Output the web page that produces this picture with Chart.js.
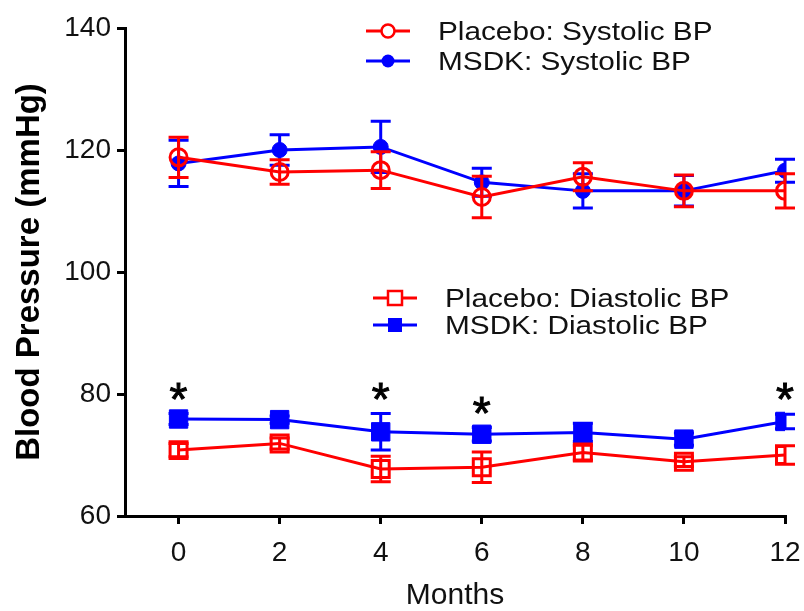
<!DOCTYPE html>
<html>
<head>
<meta charset="utf-8">
<script src="https://cdn.jsdelivr.net/npm/chart.js@4.4.1/dist/chart.umd.min.js"></script>
<style>
  html, body { margin: 0; padding: 0; background: #fff; }
  #wrap { width: 804px; height: 611px; }
</style>
</head>
<body>
<div id="wrap"><canvas id="bpChart"></canvas></div>
<script>
// values (mean and SEM, mmHg)
const months = [0, 2, 4, 6, 8, 10, 12];
const xTicks = [0, 2, 4, 6, 8, 10, 12];
const yTicks = [60, 80, 100, 120, 140];

const sysPlacebo    = [118.8, 116.4, 116.7, 112.3, 115.6, 113.3, 113.3];
const sysPlaceboErr = [3.3, 2.0, 3.0, 3.4, 2.3, 2.6, 2.8];
const sysMsdk       = [117.8, 120.0, 120.5, 114.7, 113.3, 113.3, 116.6];
const sysMsdkErr    = [3.8, 2.5, 4.2, 2.3, 2.8, 2.5, 1.9];
const diaPlacebo    = [70.8, 71.9, 67.7, 68.0, 70.4, 68.9, 70.0];
const diaPlaceboErr = [1.1, 0.9, 2.1, 2.5, 1.2, 0.8, 1.5];
const diaMsdk       = [75.9, 75.8, 73.8, 73.4, 73.7, 72.6, 75.5];
const diaMsdkErr    = [0.9, 0.6, 3.0, 1.1, 1.5, 1.0, 1.2];
const starMonths    = [0, 4, 6, 12];

const RED = 'rgb(255,0,0)';
const BLUE = 'rgb(0,0,255)';
const FONT = '"Liberation Sans", Arial, sans-serif';

function pts(vals) {
  return months.map((m, i) => ({ x: m, y: vals[i] }));
}

// error bars, drawn under each dataset's own line and markers
const errorBars = {
  id: 'errorBars',
  beforeDatasetDraw(chart, args) {
    const ds = chart.data.datasets[args.index];
    if (!ds.errors) return;
    const ctx = chart.ctx, xs = chart.scales.x, ys = chart.scales.y;
    ctx.save();
    ctx.strokeStyle = ds.borderColor;
    ctx.lineWidth = 3;
    ds.data.forEach((p, i) => {
      const px = xs.getPixelForValue(p.x);
      const top = ys.getPixelForValue(p.y + ds.errors[i]);
      const bot = ys.getPixelForValue(p.y - ds.errors[i]);
      ctx.beginPath();
      ctx.moveTo(px, top); ctx.lineTo(px, bot);
      ctx.moveTo(px - 10, top); ctx.lineTo(px + 10, top);
      ctx.moveTo(px - 10, bot); ctx.lineTo(px + 10, bot);
      ctx.stroke();
    });
    ctx.restore();
  }
};

// significance stars above MSDK diastolic
const stars = {
  id: 'stars',
  afterDatasetsDraw(chart) {
    const ctx = chart.ctx, xs = chart.scales.x, ys = chart.scales.y;
    ctx.save();
    ctx.fillStyle = '#000';
    ctx.strokeStyle = '#000';
    ctx.lineWidth = 1;
    ctx.font = '46px ' + FONT;
    ctx.textAlign = 'center';
    ctx.textBaseline = 'alphabetic';
    starMonths.forEach(m => {
      const i = months.indexOf(m);
      const px = xs.getPixelForValue(m);
      const py = ys.getPixelForValue(diaMsdk[i] + diaMsdkErr[i]) - 25;
      ctx.fillText('*', px, py + 26);
      ctx.strokeText('*', px, py + 26);
    });
    ctx.restore();
  }
};

// two legend blocks placed like the original figure
const legendBlocks = {
  id: 'legendBlocks',
  afterDraw(chart) {
    const ctx = chart.ctx;
    const rows = [
      { ds: 0, x0: 366, x1: 410, y: 31, tx: 438 },
      { ds: 1, x0: 366, x1: 410, y: 61, tx: 438 },
      { ds: 2, x0: 373, x1: 417, y: 298, tx: 445 },
      { ds: 3, x0: 373, x1: 417, y: 325, tx: 445 }
    ];
    rows.forEach(r => {
      const ds = chart.data.datasets[r.ds];
      const cx = (r.x0 + r.x1) / 2;
      ctx.save();
      ctx.strokeStyle = ds.borderColor;
      ctx.lineWidth = 3;
      ctx.beginPath();
      ctx.moveTo(r.x0, r.y); ctx.lineTo(r.x1, r.y);
      ctx.stroke();
      ctx.fillStyle = ds.borderColor;
      ctx.beginPath();
      if (ds.pointStyle === 'circle') {
        ctx.arc(cx, r.y, 6.5, 0, Math.PI * 2);
      } else {
        ctx.rect(cx - 7, r.y - 7, 14, 14);
      }
      if (ds.open) {
        ctx.fillStyle = '#fff';
        ctx.fill();
        ctx.lineWidth = 2.5;
        ctx.stroke();
      } else {
        ctx.fill();
      }
      ctx.restore();

      ctx.save();
      ctx.fillStyle = '#111';
      ctx.font = '25px ' + FONT;
      ctx.textBaseline = 'alphabetic';
      ctx.translate(r.tx, r.y + 9);
      ctx.scale(1.19, 1);
      ctx.fillText(ds.label, 0, 0);
      ctx.restore();
    });
  }
};

new Chart(document.getElementById('bpChart'), {
  type: 'line',
  data: {
    datasets: [
      {
        label: 'Placebo: Systolic BP', data: pts(sysPlacebo), errors: sysPlaceboErr, open: true,
        borderColor: RED, borderWidth: 3, pointStyle: 'circle', pointRadius: 8.5,
        pointBorderWidth: 3, pointBackgroundColor: 'rgba(0,0,0,0)', pointBorderColor: RED
      },
      {
        label: 'MSDK: Systolic BP', data: pts(sysMsdk), errors: sysMsdkErr,
        borderColor: BLUE, borderWidth: 3, pointStyle: 'circle', pointRadius: 7.5,
        pointBorderWidth: 1, pointBackgroundColor: BLUE, pointBorderColor: BLUE
      },
      {
        label: 'Placebo: Diastolic BP', data: pts(diaPlacebo), errors: diaPlaceboErr, open: true,
        borderColor: RED, borderWidth: 3, pointStyle: 'rect', pointRadius: 12,
        pointBorderWidth: 3, pointBackgroundColor: 'rgba(0,0,0,0)', pointBorderColor: RED
      },
      {
        label: 'MSDK: Diastolic BP', data: pts(diaMsdk), errors: diaMsdkErr,
        borderColor: BLUE, borderWidth: 3, pointStyle: 'rect', pointRadius: 13,
        pointBorderWidth: 1, pointBackgroundColor: BLUE, pointBorderColor: BLUE
      }
    ]
  },
  options: {
    responsive: true,
    maintainAspectRatio: false,
    animation: false,
    layout: { padding: { top: 28, right: 19, left: 0, bottom: 0 } },
    plugins: {
      legend: { display: false },
      tooltip: { enabled: false }
    },
    scales: {
      x: {
        type: 'linear',
        min: -1.06,
        max: 12,
        afterBuildTicks: s => { s.ticks = xTicks.map(v => ({ value: v })); },
        afterFit: s => { s.height = 95; s.paddingLeft = 0; s.paddingRight = 0; },
        grid: { drawOnChartArea: false, tickLength: 8, lineWidth: 3, color: '#000' },
        border: { display: true, width: 3, color: '#000' },
        ticks: { color: '#111', font: { family: FONT, size: 28 }, padding: 12, maxRotation: 0 },
        title: {
          display: true, text: 'Months', color: '#111',
          font: { family: FONT, size: 30, lineHeight: 1.0 }, padding: { top: 0, bottom: 0 }
        }
      },
      y: {
        min: 60,
        max: 140,
        afterBuildTicks: s => { s.ticks = yTicks.map(v => ({ value: v })); },
        afterFit: s => { s.width = 125; },
        grid: { drawOnChartArea: false, tickLength: 8, lineWidth: 3, color: '#000' },
        border: { display: true, width: 3, color: '#000' },
        ticks: { color: '#111', font: { family: FONT, size: 28 }, padding: 6 },
        title: {
          display: true, text: 'Blood Pressure (mmHg)', color: '#000',
          font: { family: FONT, size: 33, weight: 'bold' }, padding: { top: 10, bottom: 0 }
        }
      }
    }
  },
  plugins: [errorBars, stars, legendBlocks]
});
</script>
</body>
</html>
